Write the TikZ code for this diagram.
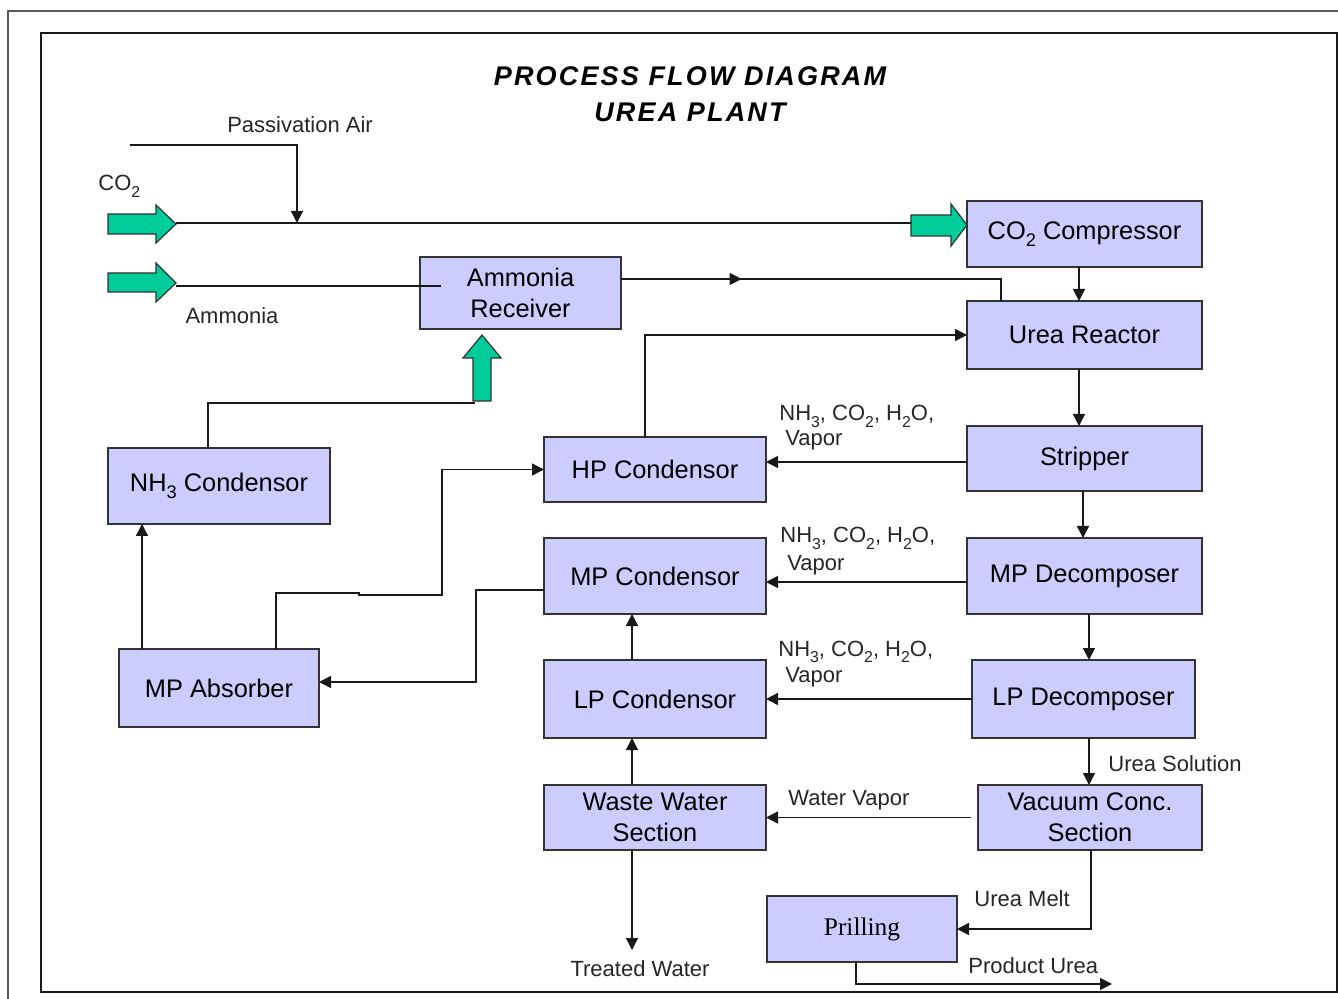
\documentclass[tikz,border=0pt]{standalone}
\usepackage{fontspec}
\setmainfont{Liberation Sans}
\newfontfamily\serifface{Liberation Serif}
\usetikzlibrary{arrows.meta,decorations.markings}

\definecolor{boxblue}{HTML}{CCCCFF}
\definecolor{fatgreen}{HTML}{00CC99}

% lowered index for chemical formulas
\newcommand\lowidx[1]{\raisebox{-0.28em}{\scalebox{0.72}{#1}}}

\tikzset{
  line/.style={draw=black!90, line width=0.75pt},
  flow/.style={line, -{Triangle[length=6pt,width=6pt]}},
  procbox/.style={draw=black!80, fill=boxblue, line width=0.75pt, inner sep=0pt,
    outer sep=0pt, align=center, font=\fontsize{12.7}{15.5}\selectfont},
  tag/.style={font=\fontsize{11}{12.5}\selectfont, inner sep=0pt, text=black!85},
  fat/.style={draw=black!80, fill=fatgreen, line width=0.6pt, line join=miter},
}

% process unit given by its corners (x1,y1,x2,y2)
\newcommand\procnode[6]{%
  \pgfmathsetmacro\pbw{(#4-#2)/2}%
  \pgfmathsetmacro\pbh{(#5-#3)/2}%
  \node[procbox, minimum width=\pbw pt, minimum height=\pbh pt] (#1)
    at ({(#2+#4)/2},{(#3+#5)/2}) {#6};}

\begin{document}
\begin{tikzpicture}[x=0.5pt,y=-0.5pt]
\useasboundingbox (0,0) rectangle (1338,999);
\fill[white] (0,0) rectangle (1338,999);

% frames
\draw[draw=black!65, line width=1pt] (1338,11) -- (8,11) -- (8,999);
\draw[draw=black!90, line width=1pt] (41,33) rectangle (1337,992);

% title
\node[anchor=base, inner sep=0pt, font=\fontsize{13.5}{16}\selectfont\bfseries\itshape\addfontfeature{LetterSpace=8}] (title1) at (690,86) {PROCESS FLOW DIAGRAM};
\node[anchor=base, inner sep=0pt, font=\fontsize{13.5}{16}\selectfont\bfseries\itshape\addfontfeature{LetterSpace=8}] (title2) at (690,122) {UREA PLANT};

% process units
\procnode{co2c}{967}{201}{1202}{267}{CO\lowidx{2} Compressor}
\procnode{urea}{967}{301}{1202}{369}{Urea Reactor}
\procnode{strip}{967}{426}{1202}{491}{Stripper}
\procnode{mpd}{967}{538}{1202}{614}{MP Decomposer}
\procnode{lpd}{972}{660}{1195}{738}{LP Decomposer}
\procnode{vac}{978}{785}{1202}{850}{Vacuum Conc.\\Section}
\procnode{hpc}{544}{437}{766}{502}{HP Condensor}
\procnode{mpc}{544}{538}{766}{614}{MP Condensor}
\procnode{lpc}{544}{660}{766}{738}{LP Condensor}
\procnode{ww}{544}{785}{766}{850}{Waste Water\\Section}
\procnode{pril}{767}{896}{957}{962}{{\serifface Prilling}}
\procnode{nh3c}{108}{448}{330}{524}{NH\lowidx{3} Condensor}
\procnode{mpa}{119}{649}{319}{727}{MP Absorber}
\procnode{amr}{420}{257}{621}{329}{Ammonia\\Receiver}

% feed arrows
\draw[fat] (108,214) -- (156,214) -- (156,205) -- (176,224) -- (156,243) -- (156,234) -- (108,234) -- cycle;
\coordinate (co2tip) at (176,223);
\draw[fat] (108,273) -- (156,273) -- (156,263) -- (176,283) -- (156,302) -- (156,292) -- (108,292) -- cycle;
\coordinate (nh3tip) at (176,286);
\draw[fat] (911,215) -- (951,215) -- (951,204) -- (967,225) -- (951,246) -- (951,236) -- (911,236) -- cycle;
\coordinate (cmptail) at (911,223);
\draw[fat] (473,401) -- (473,358) -- (463,358) -- (482,335) -- (501,358) -- (491,358) -- (491,401) -- cycle;
\coordinate (uptail) at (475,403);

% guide coordinates
\coordinate (x142) at (142,0);
\coordinate (x208) at (208,0);
\coordinate (x276) at (276,0);
\coordinate (x359) at (359,0);
\coordinate (x442) at (442,0);
\coordinate (x476) at (476,0);
\coordinate (x632) at (632,0);
\coordinate (x856) at (856,0);
\coordinate (x1079) at (1079,0);
\coordinate (x1083) at (1083,0);
\coordinate (x1089) at (1089,0);
\coordinate (x1091) at (1091,0);
\coordinate (y462) at (0,462);
\coordinate (y582) at (0,582);
\coordinate (y590) at (0,590);
\coordinate (y593) at (0,593);
\coordinate (y595) at (0,595);
\coordinate (y682) at (0,682);
\coordinate (paS) at (130,145);
\coordinate (paJ) at (297,223);
\coordinate (nh3end) at (441,286);
\coordinate (c1001) at (1001,279);
\coordinate (prod) at (1112,984);
\coordinate (twater) at (632,950);

% feed lines
\draw[flow] (paS) -| (paJ);
\draw[line] (co2tip) -- (cmptail);
\draw[line] (nh3tip) -- (nh3end);
\draw[line, postaction={decorate}, decoration={markings,
    mark=at position 0.3 with {\arrow{Triangle[length=6pt,width=6pt]}}}]
  (amr.east |- c1001) -- (c1001) -- (c1001 |- urea.north);

% main train
\draw[flow] (x1079 |- co2c.south) -- (x1079 |- urea.north);
\draw[flow] (x1079 |- urea.south) -- (x1079 |- strip.north);
\draw[flow] (x1083 |- strip.south) -- (x1083 |- mpd.north);
\draw[flow] (x1089 |- mpd.south) -- (x1089 |- lpd.north);
\draw[flow] (x1089 |- lpd.south) -- (x1089 |- vac.north);
\draw[flow] (x1091 |- vac.south) |- (pril.east);
\draw[flow] (x856 |- pril.south) |- (prod);

% vapour streams
\draw[flow] (strip.west |- y462) -- (hpc.east |- y462);
\draw[flow] (mpd.west |- y582) -- (mpc.east |- y582);
\draw[flow] (lpd.west) -- (lpc.east);
\draw[flow] ([xshift=-3.5pt]vac.west) -- (ww.east);

% condensate recycle
\draw[flow] ([xshift=-5pt]hpc.north) |- (urea.west);
\draw[flow] (x632 |- ww.north) -- (x632 |- lpc.south);
\draw[flow] (x632 |- lpc.north) -- (x632 |- mpc.south);
\draw[flow] (x632 |- ww.south) -- (twater);
\draw[flow] (mpc.west |- y590) -| (x476 |- y682) -- (mpa.east |- y682);
\draw[flow] (x276 |- mpa.north) |- (x359 |- y593) -- (x359 |- y595) -| (x442 |- hpc.west) -- (hpc.west);
\draw[flow] (x142 |- mpa.north) -- (x142 |- nh3c.south);
\draw[line] (x208 |- nh3c.north) |- (uptail);

% stream labels
\node[tag, anchor=base] (lblpa) at (300,133) {Passivation Air};
\node[tag, anchor=base west] (lblco2) at (98,191) {CO\lowidx{2}};
\node[tag, anchor=base] (lblnh3) at (232,324) {Ammonia};
\node[tag, anchor=base west] (v1a) at (779,421) {NH\lowidx{3}, CO\lowidx{2}, H\lowidx{2}O,};
\node[tag, anchor=base west] (v1b) at (785,446) {Vapor};
\node[tag, anchor=base west] (v2a) at (780,543) {NH\lowidx{3}, CO\lowidx{2}, H\lowidx{2}O,};
\node[tag, anchor=base west] (v2b) at (787,571) {Vapor};
\node[tag, anchor=base west] (v3a) at (778,656) {NH\lowidx{3}, CO\lowidx{2}, H\lowidx{2}O,};
\node[tag, anchor=base west] (v3b) at (785,682) {Vapor};
\node[tag, anchor=base west] (lblus) at (1108,771) {Urea Solution};
\node[tag, anchor=base west] (lblwv) at (788,805) {Water Vapor};
\node[tag, anchor=base west] (lblum) at (974,906) {Urea Melt};
\node[tag, anchor=base west] (lblpu) at (968,973) {Product Urea};
\node[tag, anchor=base] (lbltw) at (640,976) {Treated Water};
\end{tikzpicture}
\end{document}
